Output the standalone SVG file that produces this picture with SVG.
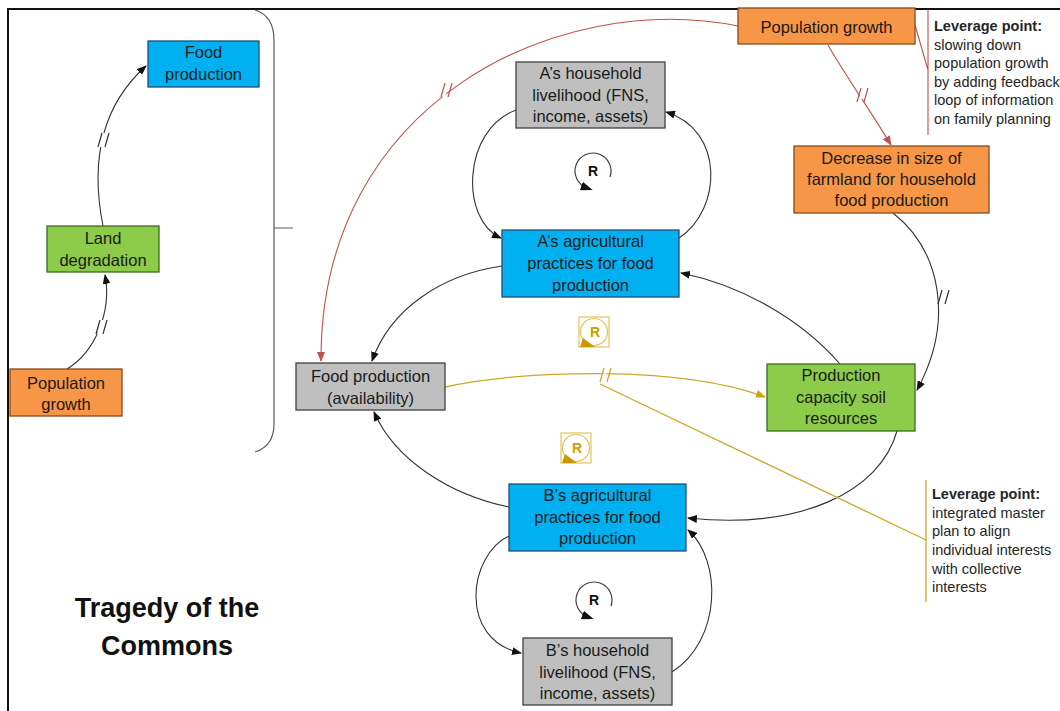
<svg xmlns="http://www.w3.org/2000/svg" width="1060" height="711" viewBox="0 0 1060 711">
<style>
.box{stroke-width:1.3}
.blue{fill:#00B0F0;stroke:#1F4E79}
.gray{fill:#BFBFBF;stroke:#404040}
.orange{fill:#F79646;stroke:#8a4a1c}
.green{fill:#8DCB4A;stroke:#3E6B1E}
.t{font-family:"Liberation Sans",Arial,sans-serif;font-size:16.5px;fill:#1a1a1a;text-anchor:middle}
.lv{font-family:"Liberation Sans",Arial,sans-serif;font-size:14.5px;fill:#262626}
.lvb{font-weight:bold}
.title{font-family:"Liberation Sans",Arial,sans-serif;font-size:27px;font-weight:bold;fill:#111;text-anchor:middle}
.c{fill:none;stroke:#333;stroke-width:1.1}
.cr{fill:none;stroke:#C0504D;stroke-width:1.1}
.cg{fill:none;stroke:#CFA624;stroke-width:1.3}
.bar{stroke-width:1.2;fill:none}
.rl{font-family:"Liberation Sans",Arial,sans-serif;font-size:14px;font-weight:bold;fill:#111;text-anchor:middle}
.rg{font-family:"Liberation Sans",Arial,sans-serif;font-size:14px;font-weight:bold;fill:#C9A000;text-anchor:middle}
</style>
<defs>
<marker id="ak" markerWidth="10" markerHeight="8" refX="9" refY="4" orient="auto" markerUnits="userSpaceOnUse"><path d="M0,0 L10,4 L0,8 Z" fill="#111"/></marker>
<marker id="ar" markerWidth="10" markerHeight="8" refX="9" refY="4" orient="auto" markerUnits="userSpaceOnUse"><path d="M0,0 L10,4 L0,8 Z" fill="#C0504D"/></marker>
<marker id="ag" markerWidth="10" markerHeight="8" refX="9" refY="4" orient="auto" markerUnits="userSpaceOnUse"><path d="M0,0 L10,4 L0,8 Z" fill="#D4A017"/></marker>
<marker id="al" markerWidth="12" markerHeight="9" refX="6" refY="4.5" orient="auto" markerUnits="userSpaceOnUse"><path d="M0,0 L12,4.5 L0,9 Z" fill="#111"/></marker>
<g id="brkK"><path d="M-4,7 L0,-7 L3,-7 L-1,7Z" fill="#fff"/><path d="M-5,7 L-1,-7 M2,7 L6,-7" class="bar" stroke="#333"/></g>
<g id="brkR"><path d="M-4,7 L0,-7 L3,-7 L-1,7Z" fill="#fff"/><path d="M-5,7 L-1,-7 M2,7 L6,-7" class="bar" stroke="#C0504D"/></g>
<g id="brkG"><path d="M-4,7 L0,-7 L3,-7 L-1,7Z" fill="#fff"/><path d="M-5,7 L-1,-7 M2,7 L6,-7" class="bar" stroke="#CFA624"/></g>
<g id="loopK"><path d="M17,6 A18,18 0 1 0 -6,17" fill="none" stroke="#404040" stroke-width="1.2" marker-end="url(#al)"/></g>
<g id="loopG"><rect x="-15" y="-15" width="30" height="30" fill="none" stroke="#E2C55A" stroke-width="1.2"/><circle r="13.5" fill="none" stroke="#E2C55A" stroke-width="1.2"/><path d="M-14,15 L1,15 L-11,6 Z" fill="#C99A00"/></g>
</defs>

<rect width="1060" height="711" fill="#fff"/>
<!-- frame -->
<path d="M8,711 V9 H1060" fill="none" stroke="#111" stroke-width="2"/>
<!-- brace -->
<path d="M255,10 Q274,16 274,40 L274,424 Q274,446 255,452 M274,228 H293" fill="none" stroke="#595959" stroke-width="1.2"/>

<g id="connectors">
  <!-- left chain -->
  <path class="c" d="M67,369 C95,352 112,312 105,275" marker-end="url(#ak)"/>
  <use href="#brkK" x="101" y="327"/>
  <path class="c" d="M103,226 C88,150 108,100 146,66" marker-end="url(#ak)"/>
  <use href="#brkK" x="103" y="140"/>
  <!-- red -->
  <path class="cr" d="M738,26 C560,-10 320,100 321,361" marker-end="url(#ar)"/>
  <use href="#brkR" x="446" y="90"/>
  <path class="cr" d="M828,45 C845,75 870,110 891,145" marker-end="url(#ar)"/>
  <use href="#brkR" x="862" y="95"/>
  <path class="cr" d="M915,25 L928,70 M928,9 V135"/>
  <!-- A loops -->
  <path class="c" d="M679,238 C722,210 725,130 666,112" marker-end="url(#ak)"/>
  <path class="c" d="M516,110 C462,130 460,220 501,238" marker-end="url(#ak)"/>
  <!-- to food production availability -->
  <path class="c" d="M502,266 C440,275 390,310 372,361" marker-end="url(#ak)"/>
  <path class="c" d="M509,507 C450,495 395,460 374,412" marker-end="url(#ak)"/>
  <!-- decrease to production capacity -->
  <path class="c" d="M893,213 C940,250 955,320 917,390" marker-end="url(#ak)"/>
  <use href="#brkK" x="943" y="297"/>
  <!-- production capacity to agri -->
  <path class="c" d="M840,364 C800,318 740,285 681,273" marker-end="url(#ak)"/>
  <path class="c" d="M897,431 C880,492 800,530 688,518" marker-end="url(#ak)"/>
  <!-- B loops -->
  <path class="c" d="M672,672 C722,640 722,560 688,530" marker-end="url(#ak)"/>
  <path class="c" d="M509,536 C468,555 458,640 521,653" marker-end="url(#ak)"/>
  <!-- gold -->
  <path class="cg" d="M445,387 C520,370 680,365 765,397" marker-end="url(#ag)"/>
  <use href="#brkG" x="605" y="375"/>
  <path class="cg" d="M600,384 L926,540 M926,480 V602" stroke-width="1.1"/>
</g>

<!-- loop icons -->
<g id="loopA"><use href="#loopK" x="593" y="171"/><text class="rl" x="593" y="176">R</text></g>
<g id="loopB"><use href="#loopK" x="594" y="600"/><text class="rl" x="594" y="605">R</text></g>
<g id="loopG1"><use href="#loopG" x="594" y="332"/><text class="rg" x="595" y="337">R</text></g>
<g id="loopG2"><use href="#loopG" x="576" y="448"/><text class="rg" x="577" y="453">R</text></g>

<!-- left nodes -->
<g id="n-food-left"><rect class="box blue" x="148" y="41" width="111" height="46"/><text class="t" x="203.5" y="58">Food</text><text class="t" x="203.5" y="80">production</text></g>
<g id="n-land"><rect class="box green" x="47" y="226" width="112" height="46"/><text class="t" x="103" y="244">Land</text><text class="t" x="103" y="266">degradation</text></g>
<g id="n-pop-left"><rect class="box orange" x="10" y="369" width="112" height="47"/><text class="t" x="66" y="389">Population</text><text class="t" x="66" y="410">growth</text></g>

<!-- main nodes -->
<g id="n-pop-top"><rect class="box orange" x="738" y="8" width="177" height="36"/><text class="t" x="826.5" y="33">Population growth</text></g>
<g id="n-a-house"><rect class="box gray" x="516" y="62" width="149" height="66"/><text class="t" x="590.5" y="79">A’s household</text><text class="t" x="590.5" y="101">livelihood (FNS,</text><text class="t" x="590.5" y="122">income, assets)</text></g>
<g id="n-a-agri"><rect class="box blue" x="502" y="230" width="177" height="67"/><text class="t" x="590.5" y="247">A’s agricultural</text><text class="t" x="590.5" y="269">practices for food</text><text class="t" x="590.5" y="291">production</text></g>
<g id="n-decrease"><rect class="box orange" x="794" y="146" width="195" height="67"/><text class="t" x="891.5" y="164">Decrease in size of</text><text class="t" x="891.5" y="185">farmland for household</text><text class="t" x="891.5" y="206">food production</text></g>
<g id="n-food-avail"><rect class="box gray" x="296" y="363" width="149" height="47"/><text class="t" x="370.5" y="382">Food production</text><text class="t" x="370.5" y="404">(availability)</text></g>
<g id="n-prodcap"><rect class="box green" x="767" y="364" width="148" height="67"/><text class="t" x="841" y="381">Production</text><text class="t" x="841" y="403">capacity soil</text><text class="t" x="841" y="424">resources</text></g>
<g id="n-b-agri"><rect class="box blue" x="509" y="484" width="177" height="67"/><text class="t" x="597.5" y="501">B’s agricultural</text><text class="t" x="597.5" y="523">practices for food</text><text class="t" x="597.5" y="544">production</text></g>
<g id="n-b-house"><rect class="box gray" x="523" y="638" width="149" height="67"/><text class="t" x="597.5" y="656">B’s household</text><text class="t" x="597.5" y="678">livelihood (FNS,</text><text class="t" x="597.5" y="699">income, assets)</text></g>

<!-- leverage notes -->
<g id="lev1">
<text x="934" y="31" class="lv lvb">Leverage point:</text>
<text x="934" y="49.5" class="lv">slowing down</text>
<text x="934" y="68" class="lv">population growth</text>
<text x="934" y="86.5" class="lv">by adding feedback</text>
<text x="934" y="105" class="lv">loop of information</text>
<text x="934" y="123.5" class="lv">on family planning</text>
</g>
<g id="lev2">
<text x="932" y="498.5" class="lv lvb">Leverage point:</text>
<text x="932" y="517.5" class="lv">integrated master</text>
<text x="932" y="536" class="lv">plan to align</text>
<text x="932" y="554.5" class="lv">individual interests</text>
<text x="932" y="573.5" class="lv">with collective</text>
<text x="932" y="592" class="lv">interests</text>
</g>

<g id="title"><text class="title" x="167" y="617">Tragedy of the</text><text class="title" x="167" y="655">Commons</text></g>
</svg>
